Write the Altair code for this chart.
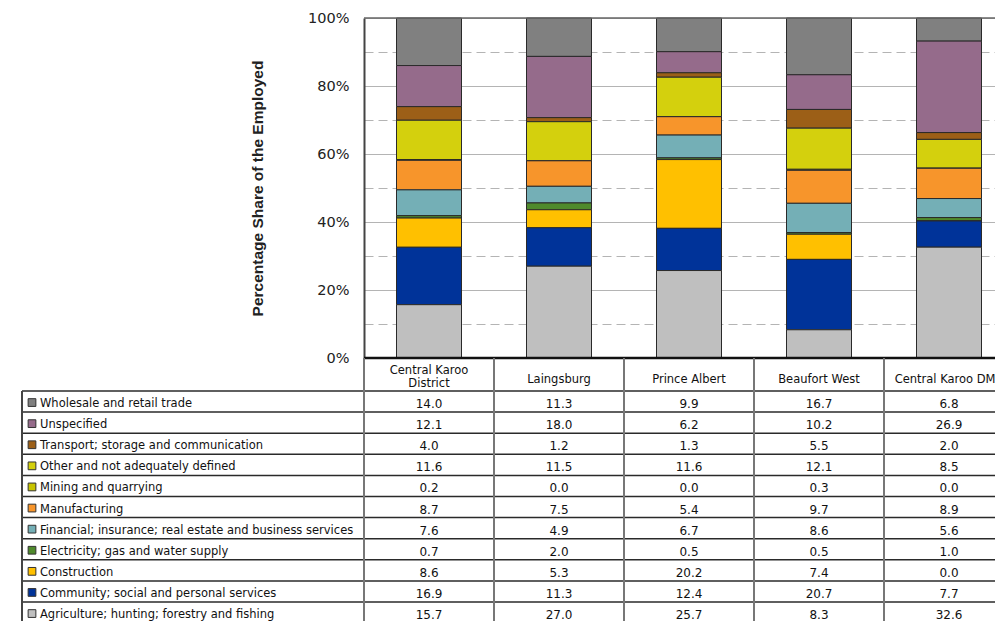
import altair as alt
import pandas as pd

regions = ["Central Karoo District", "Laingsburg", "Prince Albert", "Beaufort West", "Central Karoo DMA"]
header_labels = ["Central Karoo\nDistrict", "Laingsburg", "Prince Albert", "Beaufort West", "Central Karoo DMA"]

industries = [
    "Wholesale and retail trade",
    "Unspecified",
    "Transport; storage and communication",
    "Other and not adequately defined",
    "Mining and quarrying",
    "Manufacturing",
    "Financial; insurance; real estate and business services",
    "Electricity; gas and water supply",
    "Construction",
    "Community; social and personal services",
    "Agriculture; hunting; forestry and fishing",
]
colors = ["#808080", "#956b8b", "#9c5f17", "#d4d00d", "#c8c400", "#f7952b",
          "#74afb6", "#4f8a2c", "#ffc000", "#003399", "#bfbfbf"]

central_karoo_district = [14.0, 12.1, 4.0, 11.6, 0.2, 8.7, 7.6, 0.7, 8.6, 16.9, 15.7]
laingsburg = [11.3, 18.0, 1.2, 11.5, 0.0, 7.5, 4.9, 2.0, 5.3, 11.3, 27.0]
prince_albert = [9.9, 6.2, 1.3, 11.6, 0.0, 5.4, 6.7, 0.5, 20.2, 12.4, 25.7]
beaufort_west = [16.7, 10.2, 5.5, 12.1, 0.3, 9.7, 8.6, 0.5, 7.4, 20.7, 8.3]
central_karoo_dma = [6.8, 26.9, 2.0, 8.5, 0.0, 8.9, 5.6, 1.0, 0.0, 7.7, 32.6]

y_tick_values = [0.0, 0.1, 0.2, 0.3, 0.4, 0.5, 0.6, 0.7, 0.8, 0.9, 1.0]

series = [central_karoo_district, laingsburg, prince_albert, beaufort_west, central_karoo_dma]
rows = []
for r, vals in zip(regions, series):
    for i, (ind, v) in enumerate(zip(industries, vals)):
        rows.append({"region": r, "industry": ind, "value": v,
                     "stack_order": len(industries) - 1 - i,
                     "label": f"{v:.1f}"})
df = pd.DataFrame(rows)
reg_df = pd.DataFrame({"region": regions, "header": header_labels})
ind_df = pd.DataFrame({"industry": industries})
one_df = pd.DataFrame({"k": [0]})

# layout constants (pixels)
PLOT_W = 631
PLOT_H = 340
STEP = 130
TABLE_TOP = 373
ROW_H = 21.1
LEFT_EDGE = -342
BOTTOM = 613

FONT = "DejaVu Sans"

xs = alt.Scale(domain=regions, range=[0, 5 * STEP], paddingInner=0.5, paddingOuter=0.25)
ys = alt.Scale(type="band", domain=industries,
               range=[TABLE_TOP, TABLE_TOP + ROW_H * len(industries)],
               paddingInner=0, paddingOuter=0)
color_scale = alt.Scale(domain=industries, range=colors)

bars = alt.Chart(df).mark_bar(stroke="#2a2a2a", strokeWidth=1).encode(
    x=alt.X("region:N", scale=xs, sort=regions, axis=None),
    y=alt.Y("value:Q", stack="normalize",
            scale=alt.Scale(domain=[0, 1]),
            axis=alt.Axis(
                values=y_tick_values,
                labelExpr="(round(datum.value*100) % 20 == 0) ? format(datum.value, '.0%') : ''",
                title="Percentage Share of the Employed",
                titleFont="Liberation Sans", titleFontSize=15.5, titleFontWeight="bold",
                titleColor="#222", titlePadding=42,
                labelFont=FONT, labelFontSize=14.5, labelColor="#222",
                labelPadding=15, ticks=False, tickSize=0,
                domainColor="#444", domainWidth=2,
                grid=True, gridColor="#b4b4b4", gridWidth=1,
                gridDash={"condition": {"test": "round(datum.value*100) % 20 != 0", "value": [9, 5]},
                          "value": []},
            )),
    color=alt.Color("industry:N", scale=color_scale, legend=None),
    order=alt.Order("stack_order:Q", sort="ascending"),
)

top_line = alt.Chart(one_df).mark_rule(color="#666", strokeWidth=1.5).encode(
    x=alt.value(0), x2=alt.value(PLOT_W), y=alt.value(0))

axis_line = alt.Chart(one_df).mark_rule(color="#111", strokeWidth=2.5).encode(
    x=alt.value(0), x2=alt.value(PLOT_W), y=alt.value(PLOT_H))

row_lines = alt.Chart(ind_df).mark_rule(color="#2a2a2a", strokeWidth=1.5).encode(
    y=alt.Y("industry:N", scale=ys, axis=None, bandPosition=0),
    x=alt.value(LEFT_EDGE), x2=alt.value(PLOT_W))

col_lines = alt.Chart(reg_df).mark_rule(color="#777", strokeWidth=2, xOffset=-STEP / 2).encode(
    x=alt.X("region:N", scale=xs, sort=regions, axis=None, bandPosition=0.5),
    y=alt.value(PLOT_H), y2=alt.value(BOTTOM))

left_line = alt.Chart(one_df).mark_rule(color="#444", strokeWidth=2).encode(
    x=alt.value(LEFT_EDGE), y=alt.value(TABLE_TOP), y2=alt.value(BOTTOM))

headers_one = alt.Chart(reg_df).transform_filter(
    "indexof(datum.header, '\\n') < 0"
).mark_text(font=FONT, fontSize=11.5, color="#111", baseline="middle", dy=5).encode(
    x=alt.X("region:N", scale=xs, sort=regions, axis=None),
    y=alt.value(PLOT_H + 17),
    text="header:N")

headers_two = alt.Chart(reg_df).transform_filter(
    "indexof(datum.header, '\\n') >= 0"
).mark_text(lineBreak="\n", font=FONT, fontSize=11.5, color="#111", baseline="middle",
            lineHeight=13, dy=-4).encode(
    x=alt.X("region:N", scale=xs, sort=regions, axis=None),
    y=alt.value(PLOT_H + 17),
    text="header:N")

values = alt.Chart(df).mark_text(font=FONT, fontSize=12, color="#111", baseline="middle",
                                 dy=2.5).encode(
    x=alt.X("region:N", scale=xs, sort=regions, axis=None),
    y=alt.Y("industry:N", scale=ys, axis=None),
    text="label:N")

swatches = alt.Chart(ind_df).mark_square(size=60, stroke="#333", strokeWidth=1, opacity=1,
                                         yOffset=1).encode(
    x=alt.value(LEFT_EDGE + 10),
    y=alt.Y("industry:N", scale=ys, axis=None),
    fill=alt.Color("industry:N", scale=color_scale, legend=None))

labels = alt.Chart(ind_df).mark_text(font=FONT, fontSize=11.5, color="#111", align="left",
                                     baseline="middle", dy=2.5).encode(
    x=alt.value(LEFT_EDGE + 18),
    y=alt.Y("industry:N", scale=ys, axis=None),
    text="industry:N")

chart = alt.layer(
    bars, top_line, axis_line, row_lines, col_lines, left_line, headers_one, headers_two,
    values, swatches, labels
).resolve_scale(y="independent").properties(
    width=PLOT_W, height=PLOT_H,
    padding={"left": 356, "top": 10, "right": 0, "bottom": BOTTOM - 10 - PLOT_H},
    autosize=alt.AutoSizeParams(type="none"),
).configure_view(stroke=None)

chart.save("out.html", embed_options={"renderer": "svg", "actions": False})
